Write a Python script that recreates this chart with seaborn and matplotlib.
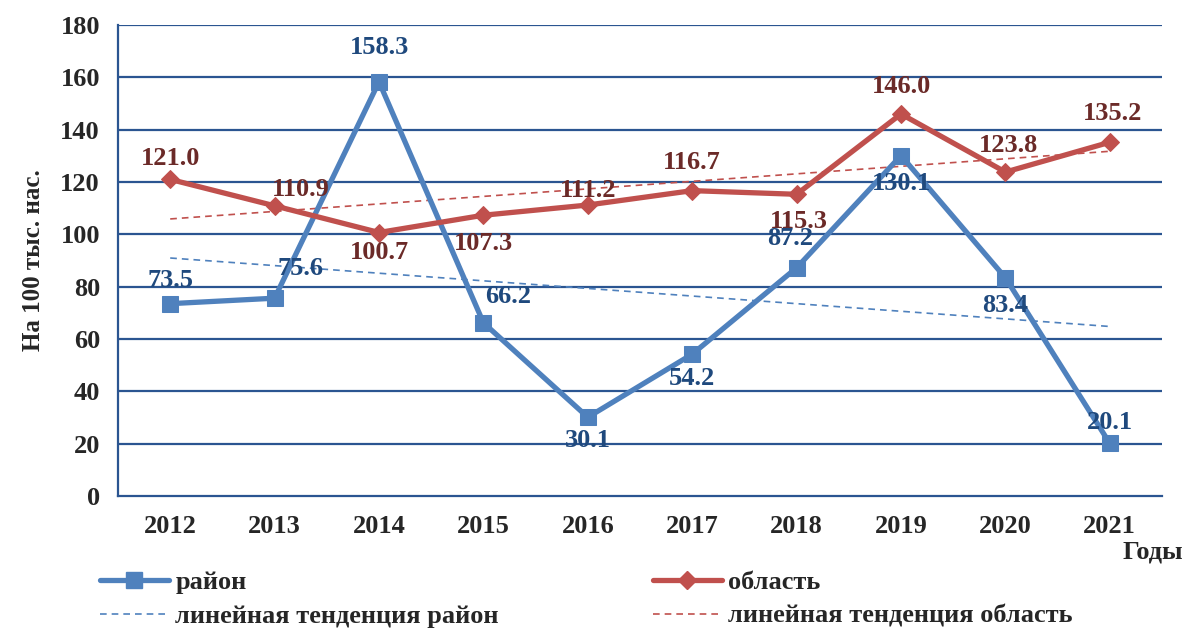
import numpy as np
import pandas as pd
import matplotlib
matplotlib.use("Agg")
import matplotlib.pyplot as plt
import seaborn as sns

years = [2012, 2013, 2014, 2015, 2016, 2017, 2018, 2019, 2020, 2021]
rayon = [73.5, 75.6, 158.3, 66.2, 30.1, 54.2, 87.2, 130.1, 83.4, 20.1]
oblast = [121.0, 110.9, 100.7, 107.3, 111.2, 116.7, 115.3, 146.0, 123.8, 135.2]

# label offsets in pixels (dx, dy), dy up
rayon_off = [(0, 23), (26, 30), (0, 34), (25, 26), (0, -23), (0, -24), (-6, 29), (0, -28), (0, -28), (0, 21)]
oblast_off = [(0, 21), (26, 16), (0, -20), (0, -28), (0, 15), (0, 28), (2, -27), (0, 27), (3, 27), (3, 29)]

blue = "#4F81BD"
red = "#C0504D"
blue_txt = "#1F497D"
red_txt = "#6B2A28"
navy = "#2B5591"

sns.set_style("white")
plt.rcParams["font.family"] = ["Liberation Serif", "DejaVu Serif"]
plt.rcParams["font.weight"] = "bold"

df = pd.DataFrame({"year": years, "rayon": rayon, "oblast": oblast})

fig = plt.figure(figsize=(11.87, 6.28), dpi=100)
ax = fig.add_axes([118 / 1187, 1 - 496 / 628, 1044 / 1187, 471 / 628])

ax.set_ylim(0, 180)
ax.set_yticks(range(0, 181, 20))
for v in range(20, 181, 20):
    ax.axhline(v, color=navy, lw=1.6, zorder=1)

# linear trend lines
sns.regplot(data=df, x="year", y="rayon", scatter=False, ci=None, ax=ax,
            line_kws=dict(color=blue, lw=1.2, ls=(0, (4, 3)), zorder=2))
sns.regplot(data=df, x="year", y="oblast", scatter=False, ci=None, ax=ax,
            line_kws=dict(color=red, lw=1.2, ls=(0, (4, 3)), zorder=2))
sns.lineplot(data=df, x="year", y="rayon", ax=ax, color=blue, lw=3.8,
             marker="s", markersize=11, markeredgecolor=blue, zorder=3)
sns.lineplot(data=df, x="year", y="oblast", ax=ax, color=red, lw=3.8,
             marker="D", markersize=9, markeredgecolor=red, zorder=3)

for x, y, (dx, dy) in zip(years, rayon, rayon_off):
    ax.annotate(f"{y:.1f}", (x, y), xytext=(dx * 0.72, dy * 0.72), textcoords="offset points",
                ha="center", va="center", fontsize=19, fontweight="bold", color=blue_txt, zorder=5)
for x, y, (dx, dy) in zip(years, oblast, oblast_off):
    ax.annotate(f"{y:.1f}", (x, y), xytext=(dx * 0.72, dy * 0.72), textcoords="offset points",
                ha="center", va="center", fontsize=19, fontweight="bold", color=red_txt, zorder=5)

ax.set_xlim(years[0] - 0.5, years[-1] + 0.5)
ax.set_xticks(years)
ax.set_xticklabels([str(y) for y in years])
ax.set_xticks([y - 0.5 for y in years] + [years[-1] + 0.5], minor=True)
ax.tick_params(axis="x", which="major", length=0, pad=14, labelsize=19)
ax.tick_params(axis="x", which="minor", length=7, width=1.6, color=navy, direction="out")
ax.tick_params(axis="y", length=7, width=1.6, color=navy, direction="out", pad=6, labelsize=19)
for lab in ax.get_xticklabels() + ax.get_yticklabels():
    lab.set_fontweight("bold")

for s in ["top", "right"]:
    ax.spines[s].set_visible(False)
for s in ["left", "bottom"]:
    ax.spines[s].set_color(navy)
    ax.spines[s].set_linewidth(1.6)

ax.set_xlabel("")
ax.set_ylabel("На 100 тыс. нас.", fontsize=18, fontweight="bold", labelpad=11)

fig.text(1183 / 1187, 1 - 552 / 628, "Годы", ha="right", va="center", fontsize=19, fontweight="bold")

h = [
    plt.Line2D([], [], color=blue, lw=3.8, marker="s", markersize=11),
    plt.Line2D([], [], color=blue, lw=1.2, ls=(0, (4, 3))),
    plt.Line2D([], [], color=red, lw=3.8, marker="D", markersize=9),
    plt.Line2D([], [], color=red, lw=1.2, ls=(0, (4, 3))),
]
labels = ["район", "линейная тенденция район", "область", "линейная тенденция область"]
fig.legend(h, labels, ncol=2, loc="upper left", bbox_to_anchor=(100 / 1187, 1 - 571 / 628),
           frameon=False, handlelength=2.6, handletextpad=0.25,
           columnspacing=5.85, labelspacing=0.38, borderaxespad=0, borderpad=0,
           prop={"weight": "bold", "size": 19})

fig.savefig("out.png", dpi=100)
